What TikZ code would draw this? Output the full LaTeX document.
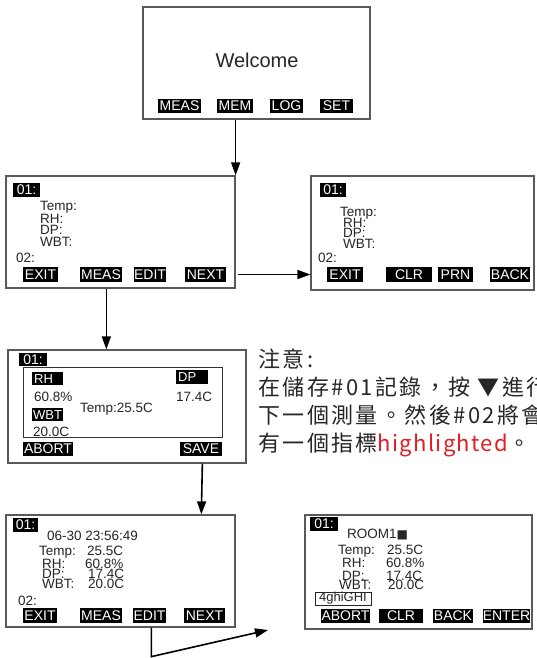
\documentclass[tikz,border=0pt]{standalone}
\usepackage{fontspec}
\setmainfont{Liberation Sans}
\newfontfamily\cjk[LetterSpace=11]{Noto Sans CJK TC}
\newfontfamily\cjklat[LetterSpace=6]{Noto Sans CJK TC}
\newfontfamily\symf{DejaVu Sans}
\usetikzlibrary{arrows.meta,calc}
\definecolor{frame}{gray}{0.35}
\definecolor{hl}{RGB}{225,30,35}
\newcommand\scrbtn[6]{\node[btn, minimum width={#4-#2}, minimum height={#5-#3}] (#1) at ({(#2+#4)/2},{(#3+#5)/2}) {#6};}
\newcommand\scrbox[5]{\node[screen, minimum width={#4-#2}, minimum height={#5-#3}] (#1) at ({(#2+#4)/2},{(#3+#5)/2}) {};}
\tikzset{
  screen/.style={draw=frame, line width=1.3pt, inner sep=0pt, fill=white},
  btn/.style={fill=black, text=white, inner sep=0pt, font=\fontsize{14}{14}\selectfont},
  txt/.style={anchor=base west, inner sep=0pt, text=black!85, font=\fontsize{13.5}{13}\selectfont},
  wlbl/.style={anchor=west, inner sep=0pt, text=white, font=\fontsize{13}{13}\selectfont},
  arr/.style={line width=1.6pt, -{Triangle[length=13pt,width=9pt]}},
}
\begin{document}
\begin{tikzpicture}[x=1pt,y=-1pt]
\useasboundingbox (0,0) rectangle (536,658);
\clip (0,0) rectangle (536,658);
% ---------- screen 1
\scrbox{box1}{143}{7}{370}{119}
\node[inner sep=0pt, font=\fontsize{20}{20}\selectfont, text=black!85] (welcome) at (257,60) {Welcome};
\scrbtn{b1meas}{158}{99}{201}{113}{MEAS}
\scrbtn{b1mem}{217}{99}{253}{113}{MEM}
\scrbtn{b1log}{270}{99}{303}{113}{LOG}
\scrbtn{b1set}{320}{99}{353}{113}{SET}
% ---------- screen 2
\scrbox{box2}{6}{176}{235}{288}
\scrbtn{b2id}{13}{183}{40}{197}{01:}
\node[txt] (b2t) at (40,210) {Temp:};
\node[txt] (b2r) at (40,223) {RH:};
\node[txt] (b2d) at (40,234) {DP:};
\node[txt] (b2w) at (40,246) {WBT:};
\node[txt] (b2n) at (16,262) {02:};
\scrbtn{b2exit}{23}{267}{58}{282}{EXIT}
\scrbtn{b2meas}{80}{267}{122}{282}{MEAS}
\scrbtn{b2edit}{134}{267}{166}{282}{EDIT}
\scrbtn{b2next}{185}{267}{226}{282}{NEXT}
% ---------- screen 3
\scrbox{box3}{311}{176}{534}{290}
\scrbtn{b3id}{320}{183}{346}{197}{01:}
\node[txt] (b3t) at (340,216) {Temp:};
\node[txt] (b3r) at (343,227) {RH:};
\node[txt] (b3d) at (343,237) {DP:};
\node[txt] (b3w) at (343,248) {WBT:};
\node[txt] (b3n) at (318,262) {02:};
\scrbtn{b3exit}{327}{267}{363}{282}{EXIT}
\scrbtn{b3clr}{386}{267}{432}{282}{CLR}
\scrbtn{b3prn}{438}{267}{473}{282}{PRN}
\scrbtn{b3back}{490}{267}{530}{282}{BACK}
% ---------- screen 5 (measure)
\scrbox{box5}{8}{350}{246}{463}
\node[draw=black!80, line width=1pt, minimum width=199, minimum height=70, inner sep=0pt] (b5in) at (122.5,402) {};
\scrbtn{b5id}{19}{353}{47}{366}{01:}
\node[fill=black, minimum width=31, minimum height=13, inner sep=0pt, anchor=north west] (b5rh) at (32,372) {};
\node[wlbl] at ([xshift=2]b5rh.west) {RH};
\node[fill=black, minimum width=31, minimum height=13, inner sep=0pt, anchor=north west] (b5wbt) at (32,408) {};
\node[wlbl] at ([xshift=1]b5wbt.west) {WBT};
\node[fill=black, minimum width=32, minimum height=14, inner sep=0pt, anchor=north west] (b5dp) at (176,370) {};
\node[wlbl] at ([xshift=2]b5dp.west) {DP};
\node[txt] (b5rhv) at (34,401) {60.8\%};
\node[txt] (b5wv) at (33,436) {20.0C};
\node[txt] (b5dpv) at (176,401) {17.4C};
\node[txt] (b5temp) at (80,412) {Temp:25.5C};
\scrbtn{b5abort}{23}{442}{73}{456}{ABORT}
\scrbtn{b5save}{180}{442}{222}{456}{SAVE}
% ---------- screen 6 (stored)
\scrbox{box6}{6}{515}{235}{627}
\scrbtn{b6id}{13}{518}{38}{532}{01:}
\node[txt] (b6date) at (47,540) {06-30 23:56:49};
\node[txt] (b6t) at (39,555) {Temp:};
\node[txt] (b6tv) at (87,555) {25.5C};
\node[txt] (b6r) at (42,568) {RH:};
\node[txt] (b6rv) at (85,568) {60.8\%};
\node[txt] (b6d) at (42,578) {DP:};
\node[txt] (b6dv) at (88,578) {17.4C};
\node[txt] (b6w) at (42,588) {WBT:};
\node[txt] (b6wv) at (88,588) {20.0C};
\node[txt] (b6n) at (18,605) {02:};
\scrbtn{b6exit}{23}{608}{57}{623}{EXIT}
\scrbtn{b6meas}{80}{608}{122}{623}{MEAS}
\scrbtn{b6edit}{133}{608}{166}{623}{EDIT}
\scrbtn{b6next}{184}{608}{225}{623}{NEXT}
% ---------- screen 4 (edit)
\scrbox{box4}{305}{515}{532}{629}
\scrbtn{b4id}{310}{517}{338}{531}{01:}
\node[txt] (b4room) at (347,538) {ROOM1{\symf\fontsize{12}{12}\selectfont■}};
\node[txt] (b4t) at (338,554) {Temp:};
\node[txt] (b4tv) at (387,554) {25.5C};
\node[txt] (b4r) at (342,567) {RH:};
\node[txt] (b4rv) at (386,567) {60.8\%};
\node[txt] (b4d) at (342,580) {DP:};
\node[txt] (b4dv) at (386,580) {17.4C};
\node[txt] (b4w) at (339,589) {WBT:};
\node[txt] (b4wv) at (388,589) {20.0C};
\node[draw=black!85, line width=0.9pt, minimum width=56, minimum height=13, inner sep=0pt, font=\fontsize{13}{13}\selectfont, text=black!85] (b4in) at (343,598.5) {4ghiGHI};
\scrbtn{b4abort}{321}{609}{370}{623}{ABORT}
\scrbtn{b4clr}{379}{609}{423}{623}{CLR}
\scrbtn{b4back}{433}{609}{473}{623}{BACK}
\scrbtn{b4enter}{483}{609}{530}{623}{ENTER}
% ---------- note
\node[anchor=north west, inner sep=0pt, align=left, text=black!85,
      font=\cjk\fontsize{22}{28}\selectfont] (note) at (258,349)
  {注意:\\在儲存\#01記錄，按 ▼進行\\下一個測量。然後\#02將會\\有一個指標{\cjklat\textcolor{hl}{highlighted}}。};
% ---------- connectors
\coordinate (a5end) at (268,630);
\draw[arr] (box2.north east |- box1.south) -- (box2.north east);
\draw[arr] ($(box2.east |- b2next)+(2,0)$) -- (box3.west |- b2next);
\draw[arr] ($(box2.south west)+(101,0)$) -- ($(box5.north west)+(99,0)$);
\draw[arr] ($(box5.south west)+(195,0)$) -- ($(box6.north west)+(196,0)$);
\draw[arr] ($(box6.south west)+(146,0)$) -- ++(0,29) -- (a5end);
\end{tikzpicture}
\end{document}
